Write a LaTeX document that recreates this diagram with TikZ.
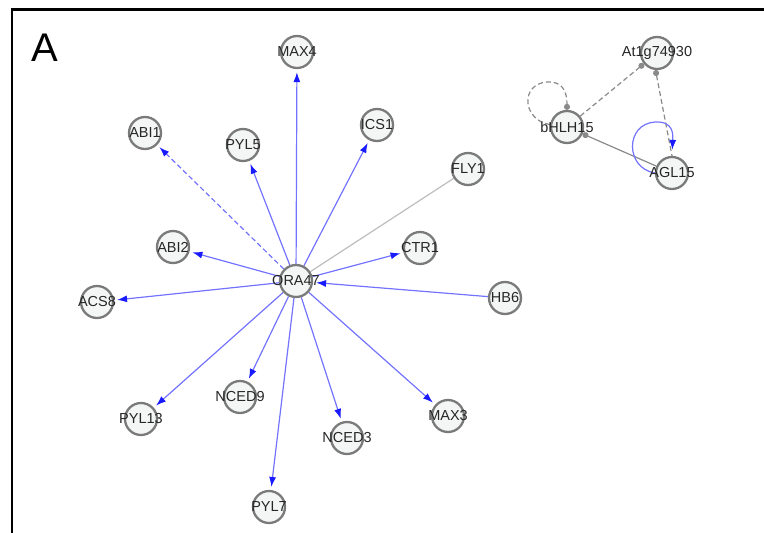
\documentclass[tikz,border=0pt]{standalone}
\usepackage{fontspec}
\setmainfont{Liberation Sans}
\usetikzlibrary{arrows.meta}
\pgfdeclarelayer{edges}
\pgfsetlayers{edges,main}
\definecolor{nodeedge}{HTML}{7A7A7A}
\definecolor{nodefill}{HTML}{F4F6F6}
\definecolor{edgeblue}{HTML}{7373FF}
\definecolor{tipblue}{HTML}{1A1AFF}
\definecolor{edgegray}{HTML}{BDBDBD}
\definecolor{darkgray}{HTML}{8A8A8A}
\tikzset{
  gene/.style={circle, draw=nodeedge, line width=2.3pt, fill=nodefill,
    minimum size=32pt, inner sep=0pt,
    label={[font=\fontsize{14.5}{14.5}\selectfont, text=black!85, inner sep=0pt]center:#1}},
  act/.style={draw=edgeblue, line width=1.2pt, shorten >=3pt,
    -{Latex[length=10pt,width=7pt,color=tipblue]}},
  plain/.style={draw=edgegray, line width=1.2pt},
  grayd/.style={draw=darkgray, line width=1.2pt, dashed, dash pattern=on 5pt off 3pt},
}
\begin{document}
\begin{tikzpicture}[x=1pt, y=-1pt]
\useasboundingbox (0,0) rectangle (764,533);
% frame
\draw[line width=2.5pt, black] (12,533) -- (12,9.5) -- (764,9.5);
\node[font=\fontsize{40}{40}\selectfont] (lab) at (45,48) {A};

% nodes
\node[gene=MAX4]  (MAX4)  at (297,52) {};
\node[gene=ABI1]  (ABI1)  at (145,133) {};
\node[gene=PYL5]  (PYL5)  at (243,145) {};
\node[gene=ICS1]  (ICS1)  at (377,125) {};
\node[gene=FLY1]  (FLY1)  at (468,169) {};
\node[gene=ABI2]  (ABI2)  at (173,247) {};
\node[gene=ORA47] (ORA47) at (296,281) {};
\node[gene=CTR1]  (CTR1)  at (420,248) {};
\node[gene=HB6]   (HB6)   at (505,298) {};
\node[gene=ACS8]  (ACS8)  at (97,302) {};
\node[gene=PYL13] (PYL13) at (141,419) {};
\node[gene=NCED9] (NCED9) at (240,397) {};
\node[gene=NCED3] (NCED3) at (347,438) {};
\node[gene=MAX3]  (MAX3)  at (448,416) {};
\node[gene=PYL7]  (PYL7)  at (269,507) {};
\node[gene=At1g74930] (AT)  at (657,53) {};
\node[gene=bHLH15]    (BH)  at (567,127) {};
\node[gene=AGL15]     (AG)  at (672,173) {};

\begin{pgfonlayer}{edges}
% ORA47 star
\draw[act] (ORA47) -- (MAX4);
\draw[act, dashed, dash pattern=on 5pt off 3pt] (ORA47) -- (ABI1);
\draw[act] (ORA47) -- (PYL5);
\draw[act] (ORA47) -- (ICS1);
\draw[plain] (ORA47) -- (FLY1);
\draw[act] (ORA47) -- (ABI2);
\draw[act] (ORA47) -- (CTR1);
\draw[act] (HB6) -- (ORA47);
\draw[act] (ORA47) -- (ACS8);
\draw[act] (ORA47) -- (PYL13);
\draw[act] (ORA47) -- (NCED9);
\draw[act] (ORA47) -- (NCED3);
\draw[act] (ORA47) -- (MAX3);
\draw[act] (ORA47) -- (PYL7);

% right cluster
\draw[grayd, -{Circle[length=6pt,color=darkgray]}] (BH) -- (AT);
\draw[grayd, {Circle[length=6pt,color=darkgray]}-] (AT.-95) -- (AG.north);
\draw[draw=darkgray, line width=1.2pt, {Circle[length=6pt,color=darkgray]}-] (BH) -- (AG);
\draw[grayd, -{Circle[length=6pt,color=darkgray]}]
  (BH.172) .. controls (522,120) and (520,84) .. (547,82)
  .. controls (563,81) and (567,92) .. (BH.north);
\draw[draw=edgeblue, line width=1.2pt, shorten >=6pt, -{Latex[length=10pt,width=7pt,color=tipblue]}]
  (AG.180) .. controls (625,168) and (625,124) .. (655,122)
  .. controls (674,121) and (673,135) .. (AG.north);
\end{pgfonlayer}
\end{tikzpicture}
\end{document}
